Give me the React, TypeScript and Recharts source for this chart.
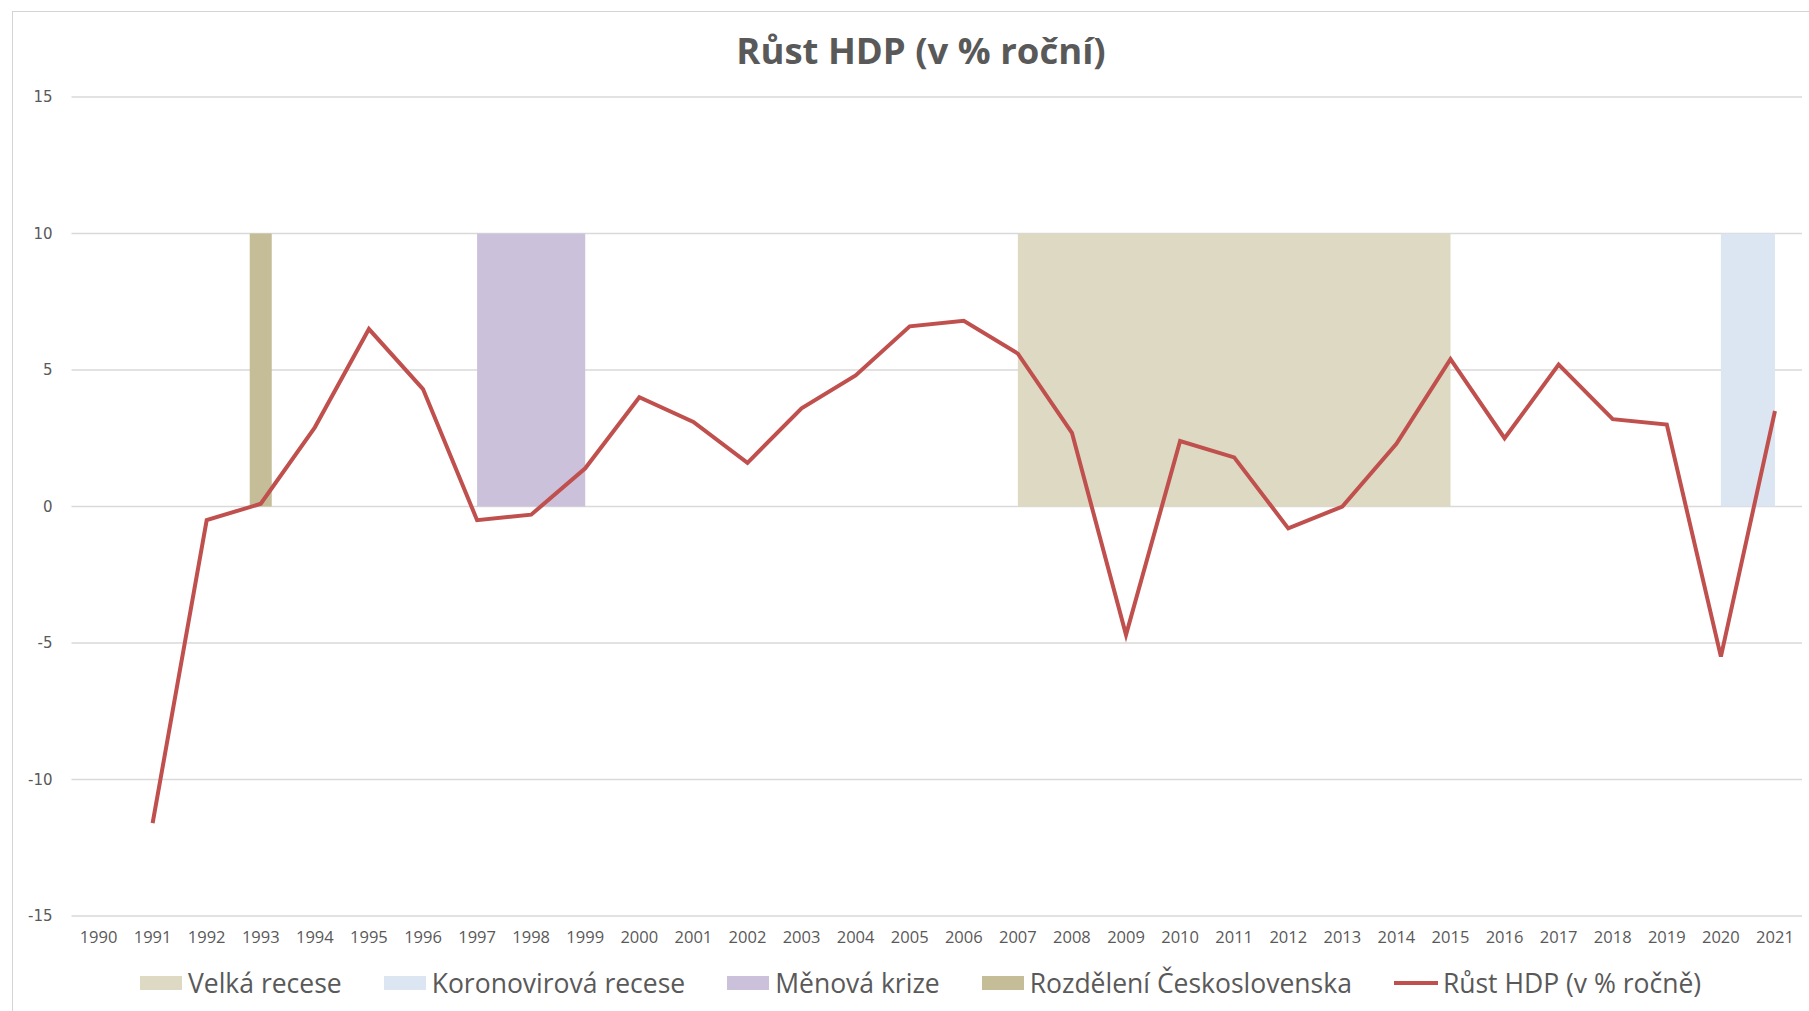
import { ComposedChart, Area, Bar, Line, XAxis, YAxis, CartesianGrid } from "recharts";

const years = [
  "1990", "1991", "1992", "1993", "1994", "1995", "1996", "1997", "1998", "1999",
  "2000", "2001", "2002", "2003", "2004", "2005", "2006", "2007", "2008", "2009",
  "2010", "2011", "2012", "2013", "2014", "2015", "2016", "2017", "2018", "2019",
  "2020", "2021",
];

// Růst HDP (v % ročně)
const gdpGrowth = [
  null, -11.6, -0.5, 0.1, 2.9, 6.5, 4.3, -0.5, -0.3, 1.4,
  4.0, 3.1, 1.6, 3.6, 4.8, 6.6, 6.8, 5.6, 2.7, -4.7,
  2.4, 1.8, -0.8, 0.0, 2.3, 5.4, 2.5, 5.2, 3.2, 3.0,
  -5.5, 3.5,
];

// shaded periods (value 10 where the period is active)
const velkaRecese = [
  null, null, null, null, null, null, null, null, null, null,
  null, null, null, null, null, null, null, 10, 10, 10,
  10, 10, 10, 10, 10, 10, null, null, null, null,
  null, null,
];
const koronaRecese = [
  null, null, null, null, null, null, null, null, null, null,
  null, null, null, null, null, null, null, null, null, null,
  null, null, null, null, null, null, null, null, null, null,
  10, 10,
];
const menovaKrize = [
  null, null, null, null, null, null, null, 10, 10, 10,
  null, null, null, null, null, null, null, null, null, null,
  null, null, null, null, null, null, null, null, null, null,
  null, null,
];
const rozdeleniCS = [
  null, null, null, 10, null, null, null, null, null, null,
  null, null, null, null, null, null, null, null, null, null,
  null, null, null, null, null, null, null, null, null, null,
  null, null,
];

const yTicks = [-15, -10, -5, 0, 5, 10, 15];

const COLORS = {
  velka: "#DDD9C3",
  korona: "#DCE6F2",
  menova: "#CCC1DA",
  rozdeleni: "#C4BD97",
  gdp: "#C0504D",
};

const legendItems = [
  { label: "Velká recese", color: COLORS.velka, kind: "box" },
  { label: "Koronovirová recese", color: COLORS.korona, kind: "box" },
  { label: "Měnová krize", color: COLORS.menova, kind: "box" },
  { label: "Rozdělení Československa", color: COLORS.rozdeleni, kind: "box" },
  { label: "Růst HDP (v % ročně)", color: COLORS.gdp, kind: "line" },
];

const data = years.map((year, i) => ({
  year,
  gdp: gdpGrowth[i],
  velka: velkaRecese[i],
  korona: koronaRecese[i],
  menova: menovaKrize[i],
  rozdeleni: rozdeleniCS[i],
}));

const textColor = "#595959";

export default function App() {
  return (
    <div style={{ position: "absolute", left: 0, top: 0, width: 1809, height: 1011, background: "#fff", overflow: "hidden" }}>
      <div
        style={{
          position: "absolute",
          left: 12,
          top: 11,
          width: 1809,
          height: 1011,
          border: "1px solid #d4d4d4",
        }}
      />
      <div
        style={{
          position: "absolute",
          left: 0,
          top: 25,
          width: 1842,
          textAlign: "center",
          fontFamily: "'Open Sans', sans-serif",
          fontWeight: 700,
          fontSize: 36.5,
          color: textColor,
          lineHeight: "50px",
        }}
      >
        Růst HDP (v % roční)
      </div>

      <div style={{ position: "absolute", left: 0, top: 0 }}>
        <ComposedChart
          width={1809}
          height={1011}
          data={data}
          margin={{ top: 97, right: 7, bottom: 65, left: 11.5 }}
        >
          <CartesianGrid vertical={false} stroke="#d9d9d9" strokeWidth={1.5} />
          <XAxis
            dataKey="year"
            axisLine={false}
            tickLine={false}
            tickSize={0}
            tickMargin={15}
            height={30}
            interval={0}
            tick={{ fill: textColor, fontSize: 16.5, fontFamily: "'Open Sans', sans-serif" }}
          />
          <YAxis
            domain={[-15, 15]}
            ticks={yTicks}
            width={60}
            axisLine={false}
            tickLine={false}
            tickSize={0}
            tickMargin={19}
            tick={{ fill: textColor, fontSize: 15, fontFamily: "'DejaVu Sans', sans-serif" }}
          />
          <Area
            dataKey="velka"
            type="linear"
            baseValue={0}
            stroke="none"
            fill={COLORS.velka}
            fillOpacity={1}
            isAnimationActive={false}
          />
          <Area
            dataKey="korona"
            type="linear"
            baseValue={0}
            stroke="none"
            fill={COLORS.korona}
            fillOpacity={1}
            isAnimationActive={false}
          />
          <Area
            dataKey="menova"
            type="linear"
            baseValue={0}
            stroke="none"
            fill={COLORS.menova}
            fillOpacity={1}
            isAnimationActive={false}
          />
          <Bar dataKey="rozdeleni" fill={COLORS.rozdeleni} barSize={22} isAnimationActive={false} />
          <Line
            dataKey="gdp"
            type="linear"
            stroke={COLORS.gdp}
            strokeWidth={4}
            dot={false}
            activeDot={false}
            isAnimationActive={false}
          />
        </ComposedChart>
      </div>

      <div
        style={{
          position: "absolute",
          left: 140,
          top: 964,
          height: 38,
          display: "flex",
          alignItems: "center",
          fontFamily: "'Open Sans', sans-serif",
          fontSize: 26.5,
          color: textColor,
          whiteSpace: "nowrap",
        }}
      >
        {legendItems.map((item) => (
          <div key={item.label} style={{ display: "flex", alignItems: "center", marginRight: 42 }}>
            {item.kind === "box" ? (
              <span style={{ display: "inline-block", width: 42, height: 14, background: item.color, marginRight: 6 }} />
            ) : (
              <span style={{ display: "inline-block", width: 44, height: 4, background: item.color, marginRight: 5 }} />
            )}
            <span>{item.label}</span>
          </div>
        ))}
      </div>
    </div>
  );
}
